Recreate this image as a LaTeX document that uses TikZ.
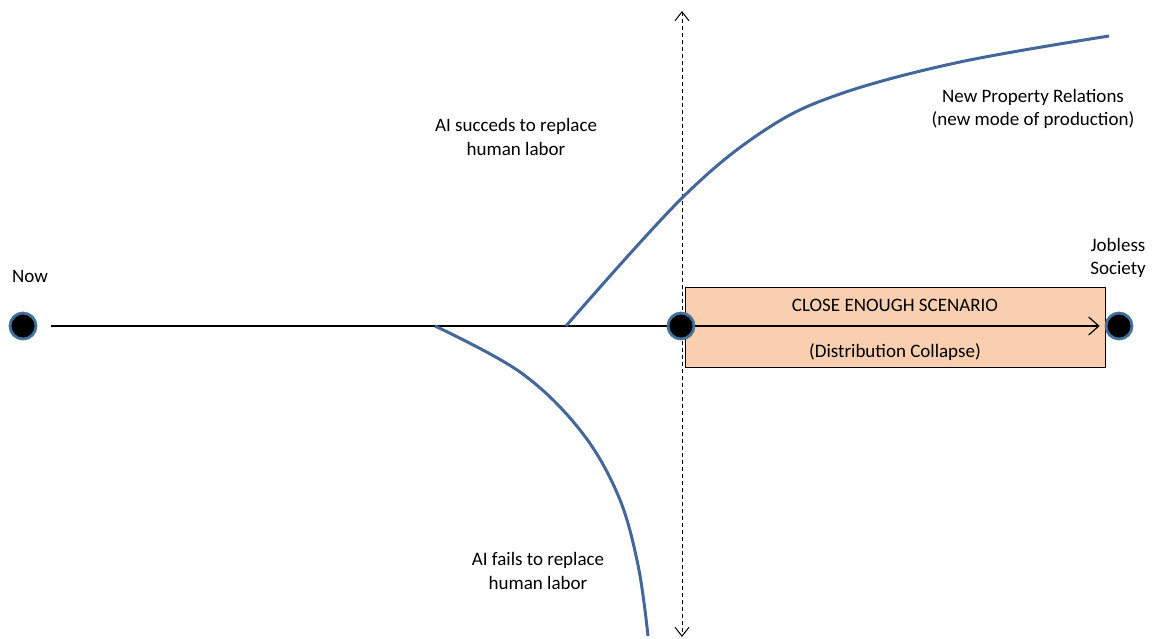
\documentclass[tikz,border=0pt]{standalone}
\usepackage{fontspec}
\setmainfont{Carlito}
\usetikzlibrary{positioning, arrows.meta}

\definecolor{curveblue}{HTML}{44679A}
\definecolor{dotring}{HTML}{41719C}
\definecolor{peach}{HTML}{F9CFB0}

\tikzset{
    dot/.style={circle, fill=black, draw=dotring, line width=2.8pt, minimum size=26pt, inner sep=0pt},
    path/.style={curveblue, line width=3pt},
    label/.style={font=\fontsize{19}{23.5}\selectfont, align=center, inner sep=0pt},
    scenario/.style={draw=black, line width=1pt, fill=peach, minimum width=420pt, minimum height=80pt, inner sep=0pt},
}

\begin{document}
\begin{tikzpicture}[x=1pt, y=-1pt]

    \useasboundingbox (0,0) rectangle (1153,639);

    % Scenario box (Right Side)
    \node[scenario] (box) at (895,327) {};
    \node[label] (close) at (895,305) {CLOSE ENOUGH SCENARIO};
    \node[label] (collapse) at (895,352) {(Distribution Collapse)};

    % Dashed divider
    \coordinate (top) at (682,11);
    \coordinate (bottom) at (682,637);
    \draw[dashed, line width=1pt, dash pattern=on 4pt off 3pt,
        {Straight Barb[length=9pt,width=14pt]}-{Straight Barb[length=9pt,width=14pt]}] (top) -- (bottom);

    % Timeline dots
    \node[dot] (now) at (23,326) {};
    \node[dot] (mid) at (681,326) {};
    \node[dot] (jobless) at (1119,326) {};

    \draw[line width=1.2pt, shorten <=14pt] (now) -- (mid);
    \draw[line width=1.2pt, -{Straight Barb[length=10pt,width=18pt]}, shorten >=5pt] (mid) -- (jobless);

    % Branches
    \draw[path] plot[smooth, tension=0.6] coordinates {(566,326) (682,198) (765,130) (840,94) (960,62) (1109,36)};
    \draw[path] plot[smooth, tension=0.6] coordinates {(435,326) (520,372) (580,430) (618,495) (638,565) (648,636)};

    % Labels
    \node[label] (nowtext) at (30,276) {Now};
    \node[label] (jobtext) at (1118,258) {Jobless\\Society};
    \node[label] (success) at (516,137) {AI succeds to replace\\human labor};
    \node[label] (newrel) at (1033,109) {New Property Relations\\(new mode of production)};
    \node[label] (fail) at (538,571) {AI fails to replace\\human labor};

\end{tikzpicture}
\end{document}
